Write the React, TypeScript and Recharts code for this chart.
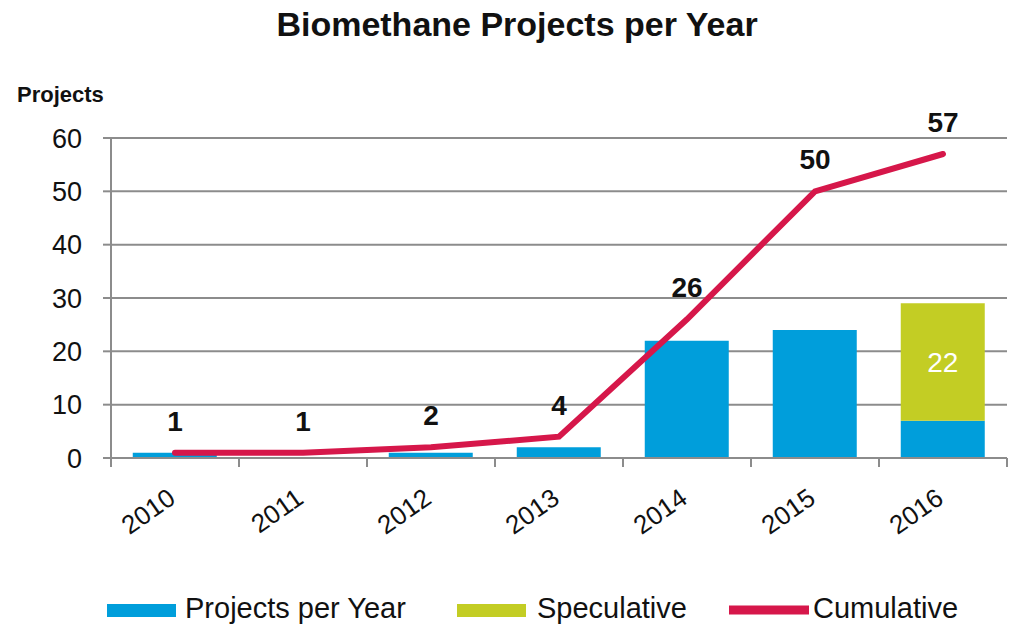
import React from 'react';
import { ComposedChart, Bar, Line, XAxis, YAxis, CartesianGrid, Legend, LabelList } from 'recharts';

const years = ['2010', '2011', '2012', '2013', '2014', '2015', '2016'];
const projectsPerYear = [1, 0, 1, 2, 22, 24, 7];
const speculative = [0, 0, 0, 0, 0, 0, 22];
const cumulative = [1, 1, 2, 4, 26, 50, 57];
const yTicks = [0, 10, 20, 30, 40, 50, 60];

const data = years.map((year, i) => ({
  year,
  perYear: projectsPerYear[i],
  speculative: speculative[i],
  cumulative: cumulative[i],
}));

const BLUE = '#009edb';
const GREEN = '#c3cd24';
const RED = '#d6174a';
const GRID = '#8c8c8c';
const INK = '#111';
const FONT = '"Liberation Sans", Arial, sans-serif';

const W = 1010;
const H = 624;
const Y_AXIS_W = 111;
const RIGHT = 3;
const HALF_BAND = (W - Y_AXIS_W - RIGHT) / years.length / 2;

const YearTick = (props: any) => {
  const { x, y, payload, index, visibleTicksCount } = props;
  const half = payload.offset || HALF_BAND;
  const ax = x + 2;
  const ay = y + 44;
  return (
    <g>
      <line x1={x - half} y1={y} x2={x - half} y2={y + 9} stroke={GRID} strokeWidth={2} />
      {index === visibleTicksCount - 1 && (
        <line x1={x + half} y1={y} x2={x + half} y2={y + 9} stroke={GRID} strokeWidth={2} />
      )}
      <text x={ax} y={ay} textAnchor="end" transform={`rotate(-35, ${ax}, ${ay})`} fontSize={26} fill={INK}>
        {payload.value}
      </text>
    </g>
  );
};

// legend slots, keyed by series name
const legendX: Record<string, { swatch: number; text: number }> = {
  'Projects per Year': { swatch: 107, text: 185 },
  Speculative: { swatch: 457, text: 537 },
  Cumulative: { swatch: 729, text: 813 },
};

const LegendContent = (props: any) => {
  const items = props.payload || [];
  return (
    <svg width={W} height={44} style={{ display: 'block', overflow: 'visible' }}>
      {items.map((item: any) => {
        const pos = legendX[item.value];
        if (!pos) return null;
        const isLine = item.type === 'line';
        return (
          <g key={item.value}>
            {isLine ? (
              <line x1={pos.swatch} y1={30} x2={pos.swatch + 80} y2={30} stroke={item.color} strokeWidth={9} />
            ) : (
              <rect x={pos.swatch} y={24} width={69} height={13} fill={item.color} />
            )}
            <text x={pos.text} y={38} fontSize={29} fill={INK} fontFamily={FONT}>
              {item.value}
            </text>
          </g>
        );
      })}
    </svg>
  );
};

export default function App() {
  return (
    <div style={{ position: 'absolute', left: 0, top: 0, width: W, height: H, fontFamily: FONT, background: '#fff' }}>
      <ComposedChart
        width={W}
        height={H}
        data={data}
        margin={{ top: 138, right: RIGHT, left: 0, bottom: 0 }}
        barCategoryGap="17%"
      >
        <CartesianGrid vertical={false} stroke={GRID} strokeWidth={2} />
        <XAxis
          dataKey="year"
          height={122}
          tickSize={0}
          tickMargin={0}
          tickLine={false}
          axisLine={{ stroke: GRID, strokeWidth: 2 }}
          tick={<YearTick />}
          interval={0}
        />
        <YAxis
          width={Y_AXIS_W}
          domain={[0, 60]}
          ticks={yTicks}
          tickSize={8}
          tickMargin={21}
          axisLine={{ stroke: GRID, strokeWidth: 2 }}
          tickLine={{ stroke: GRID, strokeWidth: 2 }}
          tick={{ fontSize: 27, fill: INK }}
        />
        <Legend verticalAlign="bottom" height={44} content={<LegendContent />} />
        <Bar dataKey="perYear" name="Projects per Year" stackId="a" fill={BLUE} isAnimationActive={false} legendType="rect" />
        <Bar dataKey="speculative" name="Speculative" stackId="a" fill={GREEN} isAnimationActive={false} legendType="rect">
          <LabelList
            dataKey="speculative"
            position="center"
            fill="#fff"
            fontSize={28}
            formatter={(v: any) => (v ? v : '')}
          />
        </Bar>
        <Line
          dataKey="cumulative"
          name="Cumulative"
          stroke={RED}
          strokeWidth={6}
          strokeLinecap="round"
          dot={false}
          activeDot={false}
          isAnimationActive={false}
          legendType="line"
        >
          <LabelList dataKey="cumulative" position="top" offset={22} fontSize={28} fontWeight="bold" fill={INK} />
        </Line>
      </ComposedChart>
      <svg width={W} height={H} style={{ position: 'absolute', left: 0, top: 0, pointerEvents: 'none' }}>
        <text x={517} y={36} textAnchor="middle" fontSize={34} fontWeight="bold" fill={INK} fontFamily={FONT}>
          Biomethane Projects per Year
        </text>
        <text x={17} y={102} fontSize={22} fontWeight="bold" fill={INK} fontFamily={FONT}>
          Projects
        </text>
      </svg>
    </div>
  );
}
